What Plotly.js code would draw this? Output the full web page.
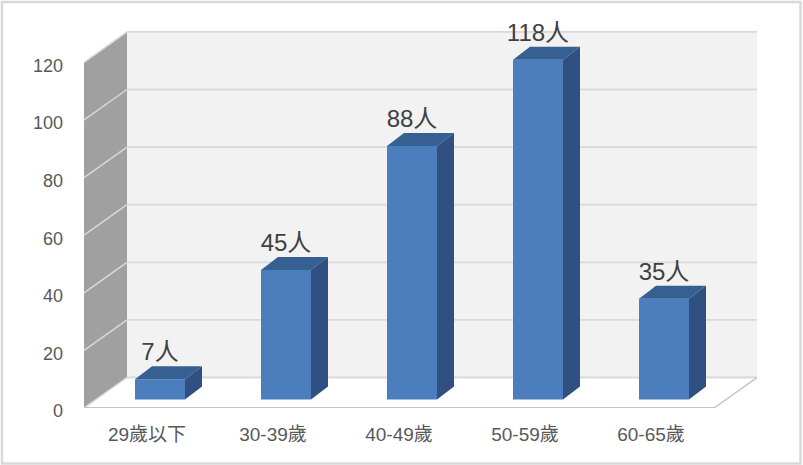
<!DOCTYPE html>
<html>
<head>
<meta charset="utf-8">
<script src="https://cdn.plot.ly/plotly-3.0.1.min.js"></script>
<style>html,body{margin:0;padding:0;background:#fff}#chart{width:803px;height:465px}</style>
</head>
<body>
<div id="chart"></div>
<script>
const categories = ['29歲以下', '30-39歲', '40-49歲', '50-59歲', '60-65歲'];
const values = [7, 45, 88, 118, 35];
const labels = ['7人', '45人', '88人', '118人', '35人'];
const yTicks = [0, 20, 40, 60, 80, 100, 120];

const W = 803, H = 465;
const L = 84, R = 757, T = 30, B = 408;
const catPx = 126, valPx = 2.88;
const X = p => p / catPx, Y = p => p / valPx;          // pixel lengths -> axis units
const wallDX = X(43), wallDY = Y(30.5);
const barOffX = X(13), barOffY = Y(8.5), barW = X(50);
const barDepX = X(17), barDepY = Y(13);
const labelGap = Y(25);
const xMax = (R - L) / catPx, yMax = (B - T) / valPx;
const n = categories.length;

const poly = pts => 'M' + pts.map(p => p[0] + ' ' + p[1]).join(' L') + ' Z';
const wall = (pts, fill) => ({type: 'path', xref: 'x', yref: 'y', layer: 'below', path: poly(pts), fillcolor: fill, line: {width: 0}});
const seg = (a, b, color, width) => ({type: 'line', xref: 'x', yref: 'y', layer: 'below', x0: a[0], y0: a[1], x1: b[0], y1: b[1], line: {color, width}});

const topV = yTicks[yTicks.length - 1];
const shapes = [
  wall([[wallDX, wallDY], [xMax, wallDY], [xMax, topV + wallDY], [wallDX, topV + wallDY]], '#f2f2f2'),
  wall([[0, 0], [wallDX, wallDY], [wallDX, topV + wallDY], [0, topV]], '#a0a0a0')
];
yTicks.forEach(v => {
  shapes.push(seg([wallDX, v + wallDY], [xMax, v + wallDY], '#d9d9d9', 1.8));
  shapes.push(seg([0, v], [wallDX, v + wallDY], '#d9d9d9', 1.5));
});
shapes.push(seg([0, 0], [n, 0], '#c4c4c4', 1.8));
shapes.push(seg([n, 0], [xMax, wallDY], '#c4c4c4', 1.5));
// picture frame
const fx = p => (p - L) / (R - L), fy = p => (B - p) / (B - T);
shapes.push({type: 'rect', xref: 'paper', yref: 'paper', layer: 'above',
  x0: fx(2), x1: fx(800.5), y0: fy(463.5), y1: fy(2), line: {color: '#d9d9d9', width: 2.5}});

const cx = categories.map((_, i) => i + 0.5);
const barC = cx.map(c => c + barOffX);

const traces = [{
  type: 'bar', x: barC, y: values, base: values.map(() => barOffY), width: barW,
  marker: {color: '#4c7ebd', line: {width: 0}}, hoverinfo: 'skip', showlegend: false
}];
values.forEach((v, i) => {
  const x0 = barC[i] - barW / 2, x1 = barC[i] + barW / 2;
  const yb = barOffY, yt = barOffY + v;
  traces.push({type: 'scatter', mode: 'lines', fill: 'toself', fillcolor: '#365f92', line: {width: 0},
    x: [x0, x1, x1 + barDepX, x0 + barDepX, x0], y: [yt, yt, yt + barDepY, yt + barDepY, yt],
    hoverinfo: 'skip', showlegend: false});
  traces.push({type: 'scatter', mode: 'lines', fill: 'toself', fillcolor: '#2f5080', line: {width: 0},
    x: [x1, x1 + barDepX, x1 + barDepX, x1, x1], y: [yb, yb + barDepY, yt + barDepY, yt, yb],
    hoverinfo: 'skip', showlegend: false});
});
traces.push({
  type: 'scatter', mode: 'text', x: barC, y: values.map(v => v + barOffY + labelGap),
  text: labels, textposition: 'middle center', cliponaxis: false,
  textfont: {family: '"Liberation Sans","Noto Sans CJK TC",sans-serif', size: 24, color: '#404040'},
  hoverinfo: 'skip', showlegend: false
});

const fam = '"Liberation Sans","Noto Sans CJK TC",sans-serif';
const layout = {
  width: W, height: H,
  margin: {l: L, r: W - R, t: T, b: H - B, pad: 0},
  paper_bgcolor: '#ffffff', plot_bgcolor: '#ffffff',
  showlegend: false,
  shapes,
  xaxis: {range: [0, xMax], tickmode: 'array', tickvals: cx, ticktext: categories, showgrid: false, zeroline: false,
    showline: false, ticks: '', tickfont: {family: fam, size: 19, color: '#595959'}, ticklabelstandoff: 13, fixedrange: true, tickangle: 0},
  yaxis: {range: [0, yMax], tickmode: 'array', tickvals: yTicks, ticktext: yTicks.map(String), showgrid: false, zeroline: false,
    showline: false, ticks: '', tickfont: {family: fam, size: 18, color: '#595959'}, ticklabelstandoff: 20, ticklabelshift: 3, fixedrange: true}
};
Plotly.newPlot('chart', traces, layout, {displayModeBar: false, staticPlot: true});
</script>
</body>
</html>
